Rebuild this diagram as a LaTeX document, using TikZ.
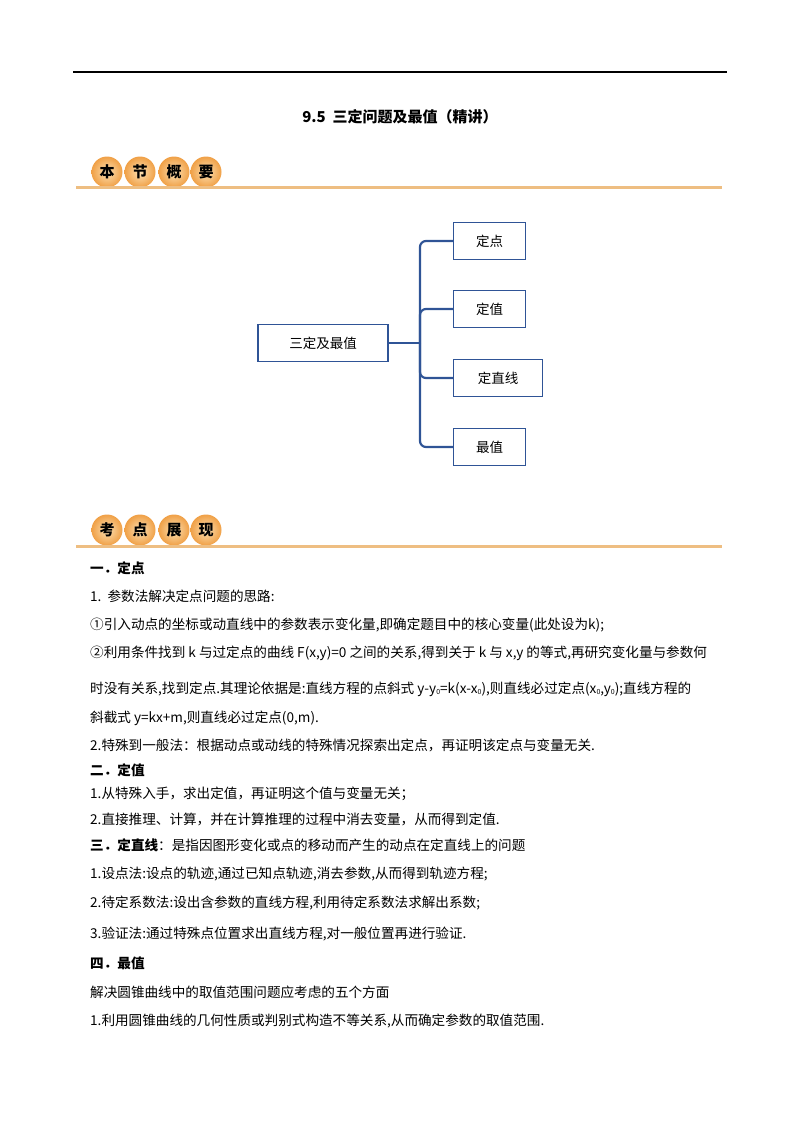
\documentclass[tikz,border=0pt]{standalone}
\usepackage{fontspec}
\setmainfont{Noto Sans CJK SC}
\newcommand{\zs}{\raisebox{-1.5pt}{\scriptsize 0}}
\begin{document}
\begin{tikzpicture}[x=1pt,y=-1pt,
 ln/.style={anchor=west,inner sep=0pt,font=\fontsize{13.6}{14}\selectfont},
 hd/.style={ln,font=\fontsize{13.6}{14}\selectfont\bfseries},
 bub/.style={circle,minimum size=31pt,inner sep=0pt,inner color={rgb,255:red,252;green,225;blue,180},outer color={rgb,255:red,240;green,160;blue,70},font=\fontsize{15}{15}\selectfont\bfseries},
 box/.style={draw={rgb,255:red,47;green,84;blue,150},line width=1.3pt,minimum height=37pt,font=\fontsize{13.5}{14}\selectfont},
 con/.style={draw={rgb,255:red,47;green,84;blue,150},line width=2.2pt,rounded corners=6pt}]
\useasboundingbox (0,0) rectangle (800,1132);
\draw[line width=1.2pt] (73,72) -- (727,72);
\node[font=\fontsize{15}{15}\selectfont\bfseries] (title) at (400,117) {9.5\ \ 三定问题及最值（精讲）};
\foreach \t/\x [count=\i] in {本/107,节/140,概/174,要/206}{\node[bub] (b\i) at (\x,172) {\t};}
\draw[line width=3pt,color={rgb,255:red,238;green,190;blue,130}] (76,187) -- (722,187);
\foreach \t/\x [count=\i] in {考/107,点/140,展/174,现/206}{\node[bub] (c\i) at (\x,530) {\t};}
\draw[line width=3pt,color={rgb,255:red,238;green,190;blue,130}] (76,546) -- (722,546);
% mind map
\node[box,minimum width=130pt] (root) at (323,343) {三定及最值};
\node[box,minimum width=72pt,anchor=west] (k1) at (453,241) {定点};
\node[box,minimum width=72pt,anchor=west] (k2) at (453,309) {定值};
\node[box,minimum width=89pt,anchor=west] (k3) at (453,378) {定直线};
\node[box,minimum width=72pt,anchor=west] (k4) at (453,447) {最值};
\coordinate (j) at (420,343);
\draw[con] (root.east) -- (j);
\draw[con] (k1.west) -- (420,241) -- (420,447) -- (k4.west);
\draw[con] (j) |- (k2.west);
\draw[con] (j) |- (k3.west);
% text
\node[hd] (t1) at (90,568) {一．定点};
\node[ln] (t2) at (90,596) {1.\ \ 参数法解决定点问题的思路:};
\node[ln] (t3) at (90,625) {①引入动点的坐标或动直线中的参数表示变化量,即确定题目中的核心变量(此处设为k);};
\node[ln] (t4) at (90,653) {②利用条件找到 k 与过定点的曲线 F(x,y)=0 之间的关系,得到关于 k 与 x,y 的等式,再研究变化量与参数何};
\node[ln] (t5) at (90,689) {时没有关系,找到定点.其理论依据是:直线方程的点斜式 y-y\zs=k(x-x\zs),则直线必过定点(x\zs,y\zs);直线方程的};
\node[ln] (t6) at (90,718) {斜截式 y=kx+m,则直线必过定点(0,m).};
\node[ln] (t7) at (90,745) {2.特殊到一般法：根据动点或动线的特殊情况探索出定点，再证明该定点与变量无关.};
\node[hd] (t8) at (90,770) {二．定值};
\node[ln] (t9) at (90,794) {1.从特殊入手，求出定值，再证明这个值与变量无关；};
\node[ln] (t10) at (90,819) {2.直接推理、计算，并在计算推理的过程中消去变量，从而得到定值.};
\node[ln] (t11) at (90,845) {\textbf{三．定直线}：是指因图形变化或点的移动而产生的动点在定直线上的问题};
\node[ln] (t12) at (90,874) {1.设点法:设点的轨迹,通过已知点轨迹,消去参数,从而得到轨迹方程;};
\node[ln] (t13) at (90,903) {2.待定系数法:设出含参数的直线方程,利用待定系数法求解出系数;};
\node[ln] (t14) at (90,934) {3.验证法:通过特殊点位置求出直线方程,对一般位置再进行验证.};
\node[hd] (t15) at (90,963) {四．最值};
\node[ln] (t16) at (90,992) {解决圆锥曲线中的取值范围问题应考虑的五个方面};
\node[ln] (t17) at (90,1021) {1.利用圆锥曲线的几何性质或判别式构造不等关系,从而确定参数的取值范围.};
\end{tikzpicture}
\end{document}
